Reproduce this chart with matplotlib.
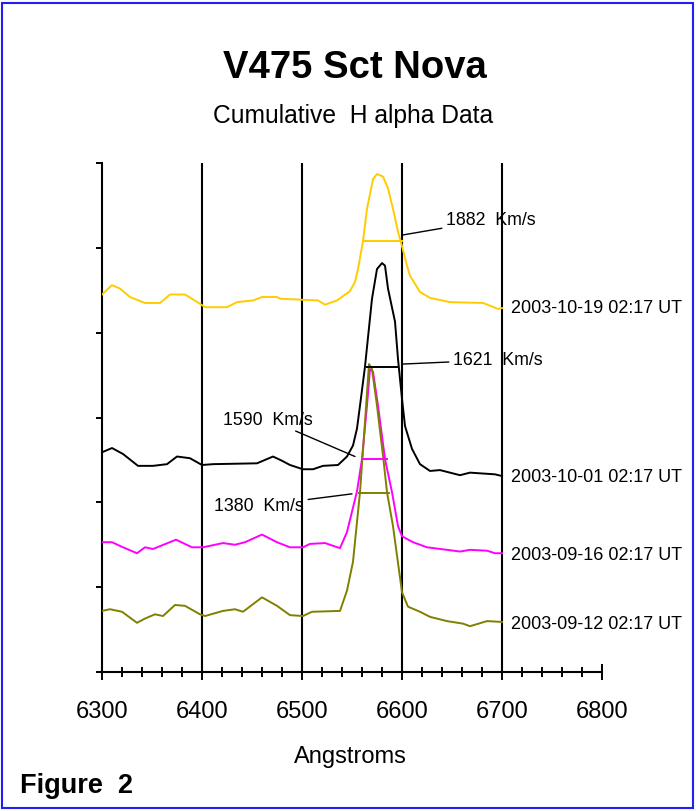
import numpy as np
import matplotlib
matplotlib.use("Agg")
import matplotlib.pyplot as plt
from matplotlib.patches import Rectangle

plt.rcParams['font.family'] = ['Liberation Sans', 'DejaVu Sans']

# spectra (wavelength in Angstroms, stacked relative intensity)
wave_1019 = [6300, 6310, 6318, 6328, 6343, 6358, 6368, 6383, 6398, 6403, 6425, 6435, 6451,
             6460, 6475, 6478, 6516, 6523, 6535, 6548, 6553, 6556, 6561, 6565, 6571, 6575,
             6581, 6586, 6591, 6596, 6600, 6605, 6608, 6618, 6628, 6648, 6681, 6696, 6700]
flux_1019 = [4.45, 4.56, 4.52, 4.42, 4.35, 4.35, 4.45, 4.45, 4.34, 4.30, 4.30, 4.36, 4.38,
             4.42, 4.42, 4.40, 4.38, 4.33, 4.38, 4.49, 4.60, 4.75, 5.08, 5.46, 5.81, 5.87,
             5.84, 5.70, 5.46, 5.19, 5.02, 4.79, 4.67, 4.48, 4.41, 4.36, 4.35, 4.28, 4.29]

wave_1001 = [6300, 6310, 6321, 6336, 6351, 6365, 6375, 6388, 6400, 6411, 6455, 6471, 6480,
             6488, 6501, 6511, 6521, 6536, 6545, 6551, 6555, 6558, 6563, 6565, 6570, 6575,
             6580, 6583, 6586, 6593, 6596, 6600, 6603, 6610, 6618, 6628, 6638, 6658, 6668,
             6693, 6700]
flux_1001 = [2.59, 2.64, 2.57, 2.43, 2.43, 2.45, 2.54, 2.52, 2.44, 2.45, 2.46, 2.54, 2.49,
             2.44, 2.39, 2.39, 2.43, 2.44, 2.54, 2.67, 2.87, 3.14, 3.60, 3.83, 4.40, 4.75,
             4.82, 4.79, 4.52, 4.13, 3.69, 3.22, 2.90, 2.63, 2.45, 2.37, 2.38, 2.32, 2.35,
             2.33, 2.31]

wave_0916 = [6300, 6310, 6321, 6335, 6343, 6351, 6374, 6390, 6401, 6421, 6433, 6443, 6460,
             6475, 6488, 6501, 6508, 6523, 6538, 6545, 6555, 6560, 6565, 6568, 6571, 6576,
             6583, 6590, 6596, 6600, 6611, 6625, 6645, 6658, 6668, 6685, 6693, 6700]
flux_0916 = [1.53, 1.53, 1.47, 1.40, 1.47, 1.45, 1.56, 1.47, 1.47, 1.52, 1.50, 1.53, 1.62,
             1.53, 1.47, 1.47, 1.51, 1.52, 1.46, 1.65, 2.13, 2.51, 3.14, 3.57, 3.54, 3.14,
             2.51, 2.12, 1.72, 1.60, 1.53, 1.47, 1.44, 1.42, 1.44, 1.43, 1.40, 1.40]

wave_0912 = [6300, 6308, 6320, 6335, 6343, 6353, 6361, 6373, 6383, 6398, 6403, 6421, 6433,
             6441, 6460, 6475, 6488, 6501, 6510, 6538, 6545, 6551, 6555, 6558, 6563, 6567,
             6570, 6575, 6581, 6585, 6591, 6600, 6606, 6618, 6628, 6645, 6661, 6668, 6685,
             6700]
flux_0912 = [0.72, 0.74, 0.71, 0.58, 0.63, 0.68, 0.66, 0.79, 0.78, 0.68, 0.66, 0.72, 0.74,
             0.71, 0.88, 0.78, 0.67, 0.66, 0.71, 0.72, 0.96, 1.30, 1.77, 2.12, 2.95, 3.63,
             3.57, 3.14, 2.55, 2.12, 1.72, 0.94, 0.77, 0.71, 0.65, 0.60, 0.57, 0.54, 0.60,
             0.59]

dates = ['2003-10-19 02:17 UT', '2003-10-01 02:17 UT', '2003-09-16 02:17 UT', '2003-09-12 02:17 UT']
colors = ['#FFCC00', '#000000', '#FF00FF', '#808000']
label_y = [4.30, 2.30, 1.39, 0.57]

# FWHM chords: level, start, end
fwhm_level = [5.08, 3.60, 2.51, 2.11]
fwhm_lo = [6561, 6565, 6560, 6557]
fwhm_hi = [6600, 6595, 6585, 6587]

# velocity notes: text, point, text position, alignment
vel_text = ['1882  Km/s', '1621  Km/s', '1590  Km/s', '1380  Km/s']
vel_xy = [(6600, 5.15), (6601, 3.63), (6553, 2.54), (6550, 2.10)]
vel_txt_xy = [(6644, 5.33), (6651, 3.68), (6511, 2.98), (6502, 1.96)]
vel_ha = ['left', 'left', 'right', 'right']

xticks = [6300, 6400, 6500, 6600, 6700, 6800]

fig = plt.figure(figsize=(6.96, 8.12), dpi=100)
ax = fig.add_axes([102 / 696, 1 - 673 / 812, 500 / 696, 509 / 812])

waves = [wave_1019, wave_1001, wave_0916, wave_0912]
fluxes = [flux_1019, flux_1001, flux_0916, flux_0912]
for w, f, c, d, ly in zip(waves, fluxes, colors, dates, label_y):
    ax.plot(w, f, color=c, lw=1.4, zorder=3)
    ax.text(w[-1] + 9, ly, d, fontsize=13, ha='left', va='center', clip_on=False)

for lev, lo, hi, c in zip(fwhm_level, fwhm_lo, fwhm_hi, colors):
    ax.plot([lo, hi], [lev, lev], color=c, lw=1.4, zorder=3)

for t, xy, txy, ha in zip(vel_text, vel_xy, vel_txt_xy, vel_ha):
    ax.annotate(t, xy=xy, xytext=txy, fontsize=12.8, ha=ha, va='center',
                arrowprops=dict(arrowstyle='-', color='black', lw=1.0,
                                shrinkA=1, shrinkB=0))

for gx in xticks[1:-1]:
    ax.axvline(gx, color='black', lw=1.5, zorder=2)

ax.set_xlim(6300, 6800)
ax.set_ylim(0, 6)
ax.set_xticks(xticks)
ax.set_xticks(np.arange(6300, 6801, 20), minor=True)
ax.set_yticks(np.arange(0, 7, 1))
ax.set_yticklabels([])
ax.tick_params(axis='x', which='major', direction='inout', length=11, width=1.4,
               labelsize=17, pad=15)
ax.tick_params(axis='x', which='minor', direction='inout', length=7, width=1.4)
ax.tick_params(axis='y', which='major', direction='out', length=4.5, width=1.4)
for s in ['top', 'right']:
    ax.spines[s].set_visible(False)
for s in ['left', 'bottom']:
    ax.spines[s].set_linewidth(1.5)
ax.set_facecolor('none')

fig.text(355 / 696, 1 - 68 / 812, 'V475 Sct Nova', fontsize=27.5, fontweight='bold',
         ha='center', va='center')
fig.text(353 / 696, 1 - 116 / 812, 'Cumulative  H alpha Data', fontsize=17.7,
         ha='center', va='center')
fig.text(350 / 696, 1 - 757 / 812, 'Angstroms', fontsize=17, ha='center', va='center')
fig.text(20 / 696, 1 - 786 / 812, 'Figure  2', fontsize=19.5, fontweight='bold',
         ha='left', va='center')

fig.patches.append(Rectangle((2 / 696, 3 / 812), 691 / 696, 805 / 812,
                             transform=fig.transFigure, fill=False,
                             edgecolor='#2020F0', lw=1.5))

fig.savefig('out.png', dpi=100, facecolor='white')
